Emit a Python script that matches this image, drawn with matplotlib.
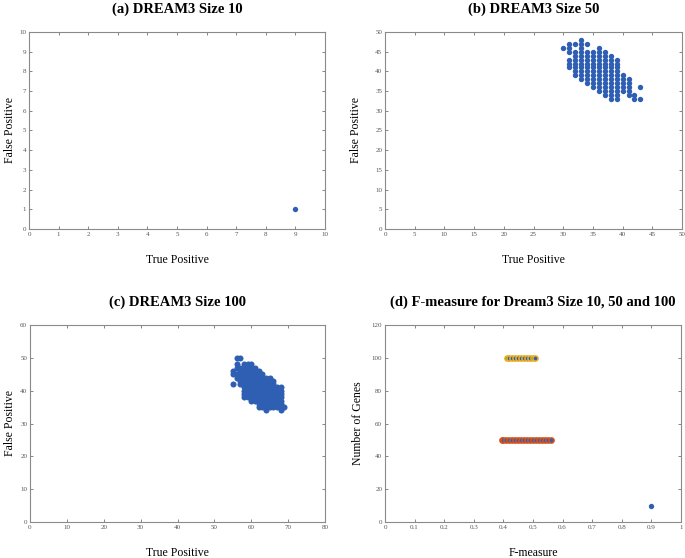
import matplotlib.pyplot as plt
import numpy as np

plt.rcParams['font.family'] = ['Liberation Serif', 'DejaVu Serif']

BLUE = '#2f5fb3'
ORANGE = '#d95319'
YELLOW = '#edb120'

# (a) DREAM3 size 10
tp_10 = [9]
fp_10 = [1]

# (b) DREAM3 size 50 : columns of (TP, list of FP)
cols_50 = {
    30: [46],
    31: [41, 42, 43, 45, 46, 47],
    32: [39, 40, 41, 42, 43, 44, 45, 47],
    33: [38, 39, 40, 41, 42, 43, 44, 45, 46, 47, 48],
    34: [37, 38, 39, 40, 41, 42, 43, 44, 45, 47],
    35: [36, 37, 38, 39, 40, 41, 42, 43, 44, 45],
    36: [35, 36, 37, 38, 39, 40, 41, 42, 43, 44, 45, 46],
    37: [34, 35, 36, 37, 38, 39, 40, 41, 42, 43, 44, 45],
    38: [33, 34, 35, 36, 37, 38, 39, 40, 41, 42, 43, 44],
    39: [33, 34, 35, 36, 37, 38, 39, 40, 41, 42, 43],
    40: [35, 36, 37, 38, 39],
    41: [34, 35, 36, 37, 38],
    42: [33, 34],
    43: [33, 36],
}

# (c) DREAM3 size 100 : columns of (TP, list of FP)
cols_100 = {
    55: [42, 45, 46],
    56: [44, 45, 47, 48, 50],
    57: [42, 43, 44, 45, 46, 47, 50],
    58: [38, 39, 40, 41, 42, 43, 44, 45, 46, 47, 48],
    59: [38, 39, 40, 41, 42, 43, 44, 45, 46, 47, 48],
    60: [37, 38, 39, 40, 41, 42, 43, 44, 45, 46, 47, 48],
    61: [37, 38, 39, 40, 41, 42, 43, 44, 45, 46, 47],
    62: [35, 36, 37, 38, 39, 40, 41, 42, 43, 44, 45, 46],
    63: [35, 36, 37, 38, 39, 40, 41, 42, 43, 44, 45],
    64: [34, 35, 36, 37, 38, 39, 40, 41, 42, 43, 44],
    65: [35, 36, 37, 38, 39, 40, 41, 42, 43, 44],
    66: [35, 36, 37, 38, 39, 40, 41, 42, 43],
    67: [35, 36, 37, 38, 39, 40, 41],
    68: [34, 35, 36, 37, 38, 39, 40, 41],
    69: [35],
}

# (d) F-measure per network size
f_10 = [0.90]
f_50 = [0.394, 0.40, 0.41, 0.42, 0.43, 0.44, 0.45, 0.46, 0.47, 0.48,
        0.49, 0.50, 0.51, 0.52, 0.53, 0.54, 0.55, 0.562]
f_100 = [0.412, 0.42, 0.43, 0.44, 0.45, 0.46, 0.47, 0.48, 0.49, 0.50, 0.508]


def flatten(cols):
    xs, ys = [], []
    for k, v in cols.items():
        xs += [k] * len(v)
        ys += v
    return xs, ys


W, H = 685, 558
fig = plt.figure(figsize=(W / 100, H / 100), dpi=100)


def make_ax(left, top, right, bottom):
    return fig.add_axes([left / W, 1 - bottom / H, (right - left) / W, (bottom - top) / H])


def style(ax, title, xlabel, ylabel, ylab_x):
    ax.set_title(title, fontsize=10.5, fontweight='bold', pad=14)
    ax.set_xlabel(xlabel, fontsize=8.5)
    ax.set_ylabel(ylabel, fontsize=8.5)
    ax.xaxis.set_label_coords(0.5, -0.125)
    ax.yaxis.set_label_coords(ylab_x, 0.5)
    ax.tick_params(direction='in', length=2.5, width=0.5, labelsize=5, colors='#555555',
                   top=True, right=True, pad=2)
    for s in ax.spines.values():
        s.set_color('#8a8a8a')
        s.set_linewidth(0.8)


ax_a = make_ax(29, 32, 325, 229)
ax_b = make_ax(385, 32, 682, 229)
ax_c = make_ax(30, 325, 325, 522)
ax_d = make_ax(385, 325, 681, 522)

# (a)
ax_a.scatter(tp_10, fp_10, s=15, color=BLUE, linewidths=0)
ax_a.set_xlim(0, 10)
ax_a.set_ylim(0, 10)
ax_a.set_xticks(np.arange(0, 11, 1))
ax_a.set_yticks(np.arange(0, 11, 1))
style(ax_a, '(a) DREAM3 Size 10', 'True Positive', 'False Positive', -0.045)

# (b)
x50, y50 = flatten(cols_50)
ax_b.scatter(x50, y50, s=15, color=BLUE, linewidths=0)
ax_b.set_xlim(0, 50)
ax_b.set_ylim(0, 50)
ax_b.set_xticks(np.arange(0, 51, 5))
ax_b.set_yticks(np.arange(0, 51, 5))
style(ax_b, '(b) DREAM3 Size 50', 'True Positive', 'False Positive', -0.077)

# (c)
x100, y100 = flatten(cols_100)
ax_c.scatter(x100, y100, s=19, color=BLUE, linewidths=0)
ax_c.set_xlim(0, 80)
ax_c.set_ylim(0, 60)
ax_c.set_xticks(np.arange(0, 81, 10))
ax_c.set_yticks(np.arange(0, 61, 10))
style(ax_c, '(c) DREAM3 Size 100', 'True Positive', 'False Positive', -0.047)

# (d)
ax_d.scatter(f_10, [10] * len(f_10), s=15, color=BLUE, linewidths=0)
ax_d.scatter(f_50, [50] * len(f_50), s=14, facecolor=BLUE, edgecolor=ORANGE, linewidths=1.1)
ax_d.scatter(f_100, [100] * len(f_100), s=14, facecolor=BLUE, edgecolor=YELLOW, linewidths=1.1)
ax_d.set_xlim(0, 1)
ax_d.set_ylim(0, 120)
ax_d.set_xticks(np.arange(0, 1.01, 0.1))
ax_d.set_xticklabels(['0', '0.1', '0.2', '0.3', '0.4', '0.5', '0.6', '0.7', '0.8', '0.9', '1'])
ax_d.set_yticks(np.arange(0, 121, 20))
style(ax_d, '(d) F-measure for Dream3 Size 10, 50 and 100', 'F-measure', 'Number of Genes', -0.072)

fig.savefig('out.png', dpi=100)
